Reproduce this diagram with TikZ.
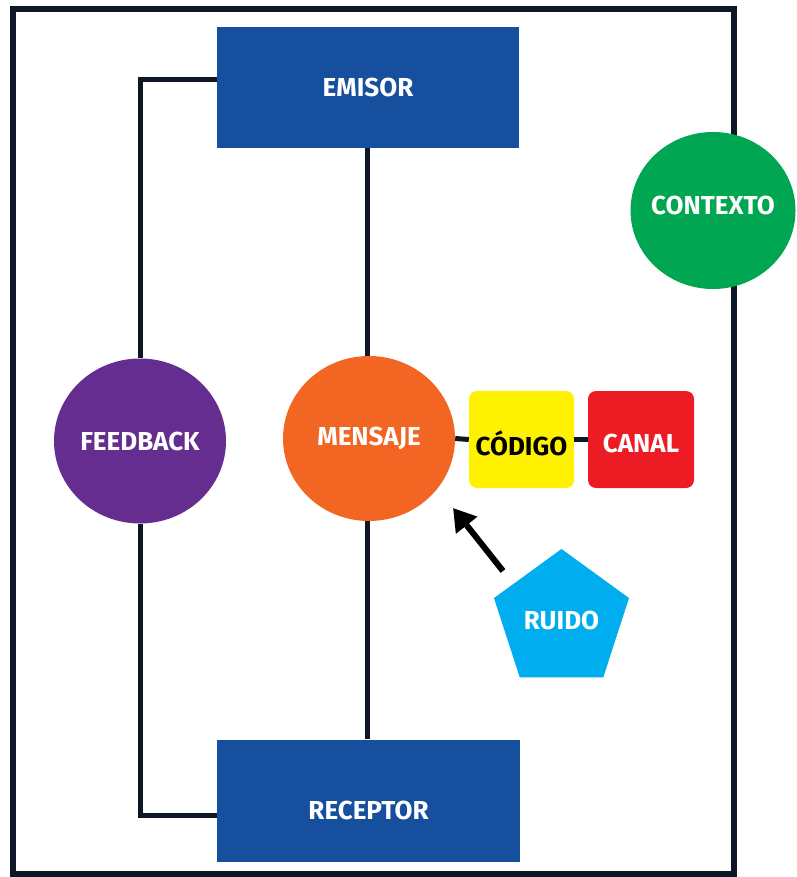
\documentclass[tikz,border=0pt]{standalone}
\usepackage{fontspec}
\setmainfont{Fira Sans}
\usetikzlibrary{shapes.geometric,arrows.meta,calc}
\definecolor{navy}{HTML}{0D1726}
\definecolor{boxblue}{HTML}{154F9E}
\definecolor{fbpurple}{HTML}{662D91}
\definecolor{msorange}{HTML}{F26522}
\definecolor{ctgreen}{HTML}{00A651}
\definecolor{rdcyan}{HTML}{00AEEF}
\definecolor{cdyellow}{HTML}{FFF200}
\definecolor{cnred}{HTML}{ED1C24}
\tikzset{
  lbl/.style={font=\bfseries\fontsize{26}{26}\selectfont, text=white},
  bluebox/.style={lbl, fill=boxblue, minimum width=302pt, minimum height=121pt, inner sep=0pt},
  blob/.style={lbl, ellipse, minimum width=172pt, minimum height=165pt, inner sep=0pt},
  smallbox/.style={lbl, rounded corners=8pt, minimum width=105pt, minimum height=97pt, inner sep=0pt},
  conn/.style={draw=navy, line width=5pt},
  frame/.style={draw=navy, line width=6pt},
}
\begin{document}
\begin{tikzpicture}[x=1pt,y=-1pt]
\useasboundingbox (0,0) rectangle (796,877);
\draw[frame] (13,9) rectangle (734,874);

\node[bluebox] (emisor) at (368,87.5) {EMISOR};
\node[bluebox, minimum width=303pt, minimum height=122pt, label={[lbl, yshift=-10pt]center:RECEPTOR}] (receptor) at (368.5,800.5) {};
\node[blob, fill=fbpurple] (feedback) at (140,441) {FEEDBACK};
\node[blob, fill=msorange] (mensaje) at (369,438.5) {MENSAJE};
\node[blob, fill=ctgreen, minimum width=165pt, minimum height=157pt, label={[lbl, yshift=5pt]center:CONTEXTO}] (contexto) at (713,210.5) {};
\node[smallbox, fill=cdyellow, label={[lbl, text=black, yshift=-4pt]center:CÓDIGO}] (codigo) at (521.5,439.5) {};
\node[smallbox, fill=cnred, minimum width=106pt, label={[lbl, yshift=-4pt]center:CANAL}] (canal) at (641,439.5) {};
\node[lbl, regular polygon, regular polygon sides=5, minimum size=142pt, inner sep=0pt, fill=rdcyan] (ruido) at (561.5,620) {RUIDO};

\coordinate (ntail) at (503,571);
\coordinate (ntip) at (453,508);

\draw[conn] ($(emisor.west)+(0,-8)$) -| (feedback.north);
\draw[conn] (feedback.south) |- ($(receptor.west)+(0,15)$);
\draw[conn] (emisor.south -| 367,0) -- (mensaje.north -| 367,0);
\draw[conn] (mensaje.south -| 367,0) -- (receptor.north -| 367,0);
\draw[conn] (mensaje.east) -- (codigo.west);
\draw[conn] (codigo.east) -- (canal.west);
\draw[line width=6pt, -{Triangle[length=22pt,width=26pt]}] (ntail) -- (ntip);
\end{tikzpicture}
\end{document}
